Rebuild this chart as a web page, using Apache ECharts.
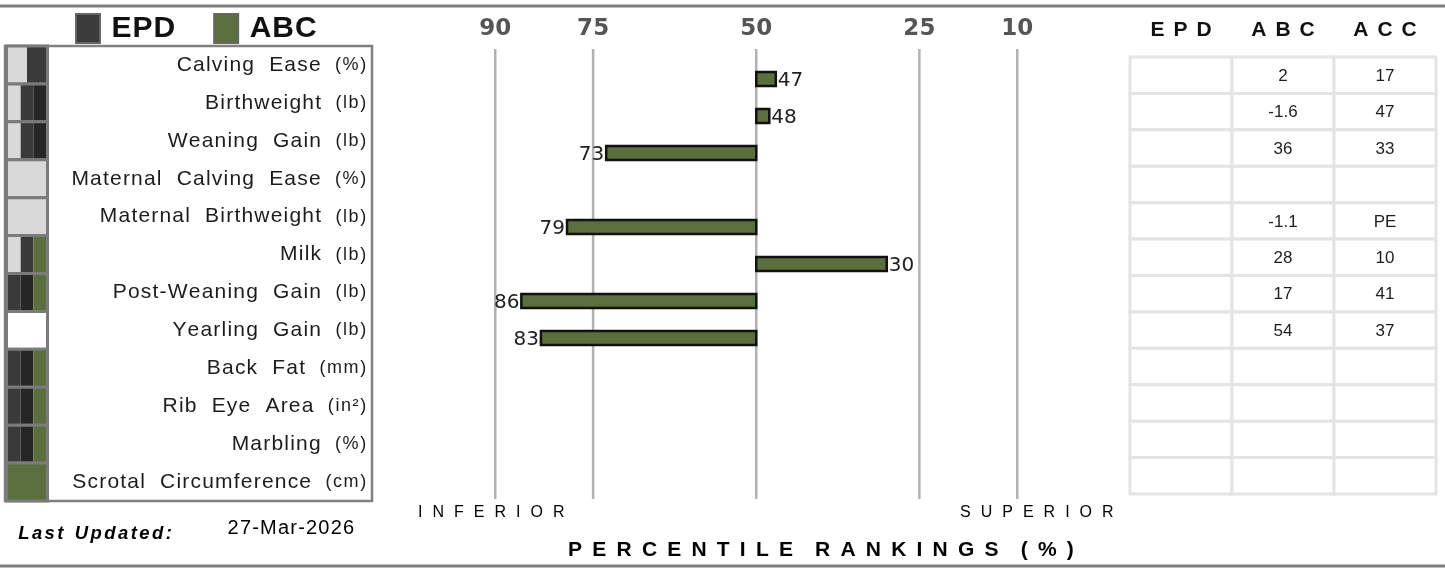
<!DOCTYPE html>
<html>
<head>
<meta charset="utf-8">
<script src="https://cdn.jsdelivr.net/npm/echarts@6/dist/echarts.min.js"></script>
<style>
  html, body { margin: 0; padding: 0; background: #ffffff; }
  #chart { width: 1445px; height: 571px; }
</style>
</head>
<body>
<div id="chart"></div>
<script>
// ---- data ----
const traits = ['Calving Ease', 'Birthweight', 'Weaning Gain', 'Maternal Calving Ease', 'Maternal Birthweight', 'Milk',
  'Post-Weaning Gain', 'Yearling Gain', 'Back Fat', 'Rib Eye Area', 'Marbling', 'Scrotal Circumference'];
const units = ['(%)', '(lb)', '(lb)', '(%)', '(lb)', '(lb)', '(lb)', '(lb)', '(mm)', '(in²)', '(%)', '(cm)'];
const percentiles = [47, 48, 73, null, 79, 30, 86, 83, null, null, null, null];
const epdValues = ['', '', '', '', '', '', '', '', '', '', '', ''];
const abcValues = ['2', '-1.6', '36', '', '-1.1', '28', '17', '54', '', '', '', ''];
const accValues = ['17', '47', '33', '', 'PE', '10', '41', '37', '', '', '', ''];
const tableHeaders = ['EPD', 'ABC', 'ACC'];
const gridTicks = [90, 75, 50, 25, 10];
const midpoint = 50;
// indicator swatches shown next to each trait name
const iconSegments = [
  ['light', 'epd'], ['light', 'epd', 'dark'], ['light', 'epd', 'dark'], ['light'], ['light'],
  ['light', 'epd', 'abc'], ['epd', 'dark', 'abc'], ['blank'], ['epd', 'dark', 'abc'],
  ['epd', 'dark', 'abc'], ['epd', 'dark', 'abc'], ['abc']
];
const lastUpdated = '27-Mar-2026';

// ---- styles ----
const GREEN = '#5b6e3e';
const EPD_DARK = '#3b3b3b';
const iconColors = { light: '#d9d9d9', epd: '#3a3a3a', dark: '#262626', abc: '#5b6e3e', blank: '#ffffff' };
const SANS = '"Liberation Sans", Arial, sans-serif';
const DEJAVU = '"DejaVu Sans", sans-serif';

// letter-spaced rich text: every glyph is its own fragment with side padding
function tracked(str, key) {
  return str.split('').map(ch => ch === ' ' ? '{' + key + 'w| }' : '{' + key + '|' + ch + '}').join('');
}

const tableCells = [];
traits.forEach((_, r) => { for (let c = 0; c < 3; c++) tableCells.push([c, r]); });
const tableColumns = [epdValues, abcValues, accValues];

const chart = echarts.init(document.getElementById('chart'), null, { renderer: 'canvas' });

const option = {
  animation: false,
  backgroundColor: '#ffffff',
  legend: {
    left: 75, top: 13, padding: 0,
    icon: 'rect', itemWidth: 24, itemHeight: 29, itemGap: 38,
    selectedMode: false,
    data: ['EPD', 'ABC'],
    itemStyle: { borderColor: '#666666', borderWidth: 2 },
    formatter: name => '{lgs| }' + tracked(name, 'lg'),
    textStyle: {
      rich: {
        lgs: { width: 6 },
        lg: { fontFamily: SANS, fontSize: 30, fontWeight: 'bold', color: '#111111', padding: [0, 0.5] }
      }
    }
  },
  grid: [
    { left: 5, top: 46, width: 367, height: 455, show: true, borderColor: '#808080', borderWidth: 2.5 },
    { left: 6, top: 46, width: 42, height: 455 },
    { left: 430, top: 49, width: 652.5, height: 450 },
    { left: 430, top: 60.5, width: 652.5, height: 444 },
    { left: 1130, top: 57, width: 306, height: 437 }
  ],
  xAxis: [
    { gridIndex: 0, type: 'value', show: false, min: 0, max: 1 },
    { gridIndex: 1, type: 'value', show: false, min: 0, max: 1 },
    { gridIndex: 2, type: 'value', show: false, min: 0, max: 100, inverse: true },
    { gridIndex: 3, type: 'value', show: false, min: 0, max: 100, inverse: true },
    {
      gridIndex: 4, type: 'category', data: tableHeaders, position: 'top',
      axisLine: { show: false }, axisTick: { show: false }, splitLine: { show: false },
      axisLabel: {
        interval: 0, margin: 16,
        formatter: v => tracked(v, 'h'),
        rich: { h: { fontFamily: SANS, fontSize: 21, fontWeight: 'bold', color: '#111111', padding: [0, 4.5] } }
      }
    }
  ],
  yAxis: [
    {
      gridIndex: 0, type: 'category', data: traits, inverse: true, position: 'right',
      axisLine: { show: false }, axisTick: { show: false }, splitLine: { show: false },
      axisLabel: {
        inside: true, interval: 0, margin: 5,
        formatter: (v, i) => tracked(v, 'n') + '{gap| }' + tracked(units[i], 'u'),
        rich: {
          n: { fontFamily: SANS, fontSize: 21, color: '#1c1c1c', padding: [0, 0.6] },
          nw: { width: 14 },
          gap: { width: 13 },
          u: { fontFamily: SANS, fontSize: 18, color: '#1c1c1c', padding: [0, 0.8] }
        }
      }
    },
    { gridIndex: 1, type: 'category', data: traits, inverse: true, show: false },
    { gridIndex: 2, type: 'category', data: traits, inverse: true, show: false },
    { gridIndex: 3, type: 'category', data: traits, inverse: true, show: false },
    { gridIndex: 4, type: 'category', data: traits, inverse: true, show: false }
  ],
  series: [
    {
      // indicator swatches
      type: 'custom', name: 'indicators', xAxisIndex: 1, yAxisIndex: 1, silent: true, z: 3,
      data: traits.map((_, i) => [0, i]),
      renderItem: (params, api) => {
        const i = api.value(1);
        const cs = params.coordSys;
        const yc = api.coord([0, i])[1];
        const band = api.size([0, 1])[1];
        const y0 = yc - band / 2;
        const segs = iconSegments[i];
        const x0 = cs.x + 2, w = cs.width - 4;
        const children = segs.map((s, k) => ({
          type: 'rect',
          shape: { x: x0 + k * w / segs.length, y: y0, width: w / segs.length, height: band },
          style: { fill: iconColors[s] }
        }));
        children.push({
          type: 'rect',
          shape: { x: cs.x + 0.5, y: y0, width: cs.width - 1, height: band },
          style: { fill: 'none', stroke: '#7b7b7b', lineWidth: 3 }
        });
        return { type: 'group', children };
      }
    },
    {
      // percentile rules and their labels
      type: 'custom', name: 'rules', xAxisIndex: 2, yAxisIndex: 2, silent: true, z: 1,
      data: gridTicks.map(v => [v, 0]),
      renderItem: (params, api) => {
        const v = api.value(0);
        const cs = params.coordSys;
        const x = api.coord([v, 0])[0];
        return {
          type: 'group', children: [
            { type: 'line', shape: { x1: x, y1: cs.y, x2: x, y2: cs.y + cs.height }, style: { stroke: '#b2b2b2', lineWidth: 2.5 } },
            { type: 'text', x: x, y: cs.y - 20, style: { text: String(v), align: 'center', verticalAlign: 'middle', font: 'bold 23px ' + DEJAVU, fill: '#555555' } }
          ]
        };
      }
    },
    {
      type: 'custom', name: 'EPD', xAxisIndex: 3, yAxisIndex: 3,
      itemStyle: { color: EPD_DARK },
      data: [],
      renderItem: () => null
    },
    {
      // percentile bars measured from the 50th percentile
      type: 'custom', name: 'ABC', xAxisIndex: 3, yAxisIndex: 3, z: 5,
      itemStyle: { color: GREEN },
      data: percentiles.map((v, i) => [v, i]).filter(d => d[0] !== null),
      renderItem: (params, api) => {
        const v = api.value(0), i = api.value(1);
        const base = api.coord([midpoint, i]);
        const end = api.coord([v, i]);
        const h = 14;
        const toLeft = end[0] < base[0];
        return {
          type: 'group', children: [
            {
              type: 'rect',
              shape: { x: Math.min(base[0], end[0]), y: base[1] - h / 2, width: Math.abs(end[0] - base[0]), height: h },
              style: { fill: GREEN, stroke: '#111111', lineWidth: 2.5 }
            },
            {
              type: 'text', x: end[0] + (toLeft ? -2 : 2), y: base[1] + 1.5,
              style: { text: String(v), align: toLeft ? 'right' : 'left', verticalAlign: 'middle', font: '20px ' + DEJAVU, fill: '#222222' }
            }
          ]
        };
      }
    },
    {
      // EPD / ABC / ACC table
      type: 'custom', name: 'table', xAxisIndex: 4, yAxisIndex: 4, silent: true, z: 2,
      data: tableCells,
      renderItem: (params, api) => {
        const c = api.value(0), r = api.value(1);
        const p = api.coord([c, r]);
        const sz = api.size([1, 1]);
        const text = tableColumns[c][r];
        return {
          type: 'group', children: [
            {
              type: 'rect',
              shape: { x: p[0] - sz[0] / 2, y: p[1] - sz[1] / 2, width: sz[0], height: sz[1] },
              style: { fill: '#ffffff', stroke: '#e4e4e4', lineWidth: 3 }
            },
            {
              type: 'text', x: p[0], y: p[1] + 1,
              style: { text: text, align: 'center', verticalAlign: 'middle', font: '17px ' + SANS, fill: '#1e1e1e' }
            }
          ]
        };
      }
    }
  ],
  graphic: [
    { type: 'line', shape: { x1: 0, y1: 6, x2: 1445, y2: 6 }, style: { stroke: '#7f7f7f', lineWidth: 3 } },
    { type: 'line', shape: { x1: 0, y1: 566, x2: 1445, y2: 566 }, style: { stroke: '#7f7f7f', lineWidth: 3 } },
    {
      type: 'text', x: 413, y: 513,
      style: {
        text: tracked('INFERIOR', 't'), align: 'left', verticalAlign: 'middle',
        rich: { t: { fontFamily: SANS, fontSize: 16, color: '#222222', padding: [0, 5] } }
      }
    },
    {
      type: 'text', x: 955, y: 513,
      style: {
        text: tracked('SUPERIOR', 't'), align: 'left', verticalAlign: 'middle',
        rich: { t: { fontFamily: SANS, fontSize: 16, color: '#222222', padding: [0, 5] } }
      }
    },
    {
      type: 'text', x: 563, y: 550,
      style: {
        text: tracked('PERCENTILE RANKINGS (%)', 'p'), align: 'left', verticalAlign: 'middle',
        rich: {
          p: { fontFamily: SANS, fontSize: 21, fontWeight: 'bold', color: '#111111', padding: [0, 5.1] },
          pw: { width: 12 }
        }
      }
    },
    {
      type: 'text', x: 17, y: 534,
      style: {
        text: tracked('Last Updated:', 'l'), align: 'left', verticalAlign: 'middle',
        rich: {
          l: { fontFamily: SANS, fontSize: 18.5, fontWeight: 'bold', fontStyle: 'italic', color: '#111111', padding: [0, 1.2] },
          lw: { width: 9 }
        }
      }
    },
    {
      type: 'text', x: 227, y: 528,
      style: {
        text: tracked(lastUpdated, 'd'), align: 'left', verticalAlign: 'middle',
        rich: { d: { fontFamily: SANS, fontSize: 20, color: '#111111', padding: [0, 0.6] } }
      }
    }
  ]
};

chart.setOption(option);
</script>
</body>
</html>
